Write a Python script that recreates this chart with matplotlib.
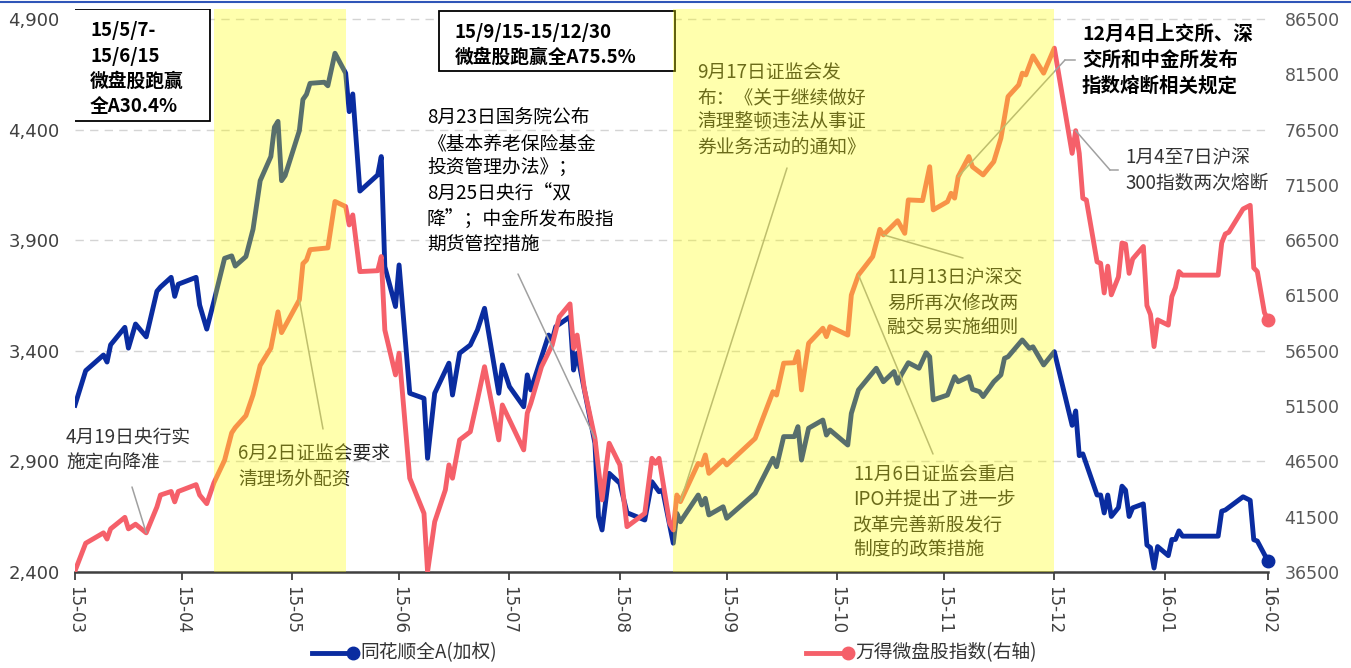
import matplotlib
matplotlib.use("Agg")
import matplotlib.pyplot as plt
import matplotlib.transforms as mtransforms
from matplotlib.patches import Rectangle
from matplotlib.lines import Line2D
import pandas as pd

plt.rcParams['font.family'] = ['Noto Sans CJK SC', 'DejaVu Sans']

W, H = 1351, 668

# 同花顺全A(加权) - left axis
all_a_dates = [
    '2015-03-31', '2015-04-03', '2015-04-08', '2015-04-09', '2015-04-10', '2015-04-14', '2015-04-15',
    '2015-04-17', '2015-04-20', '2015-04-23', '2015-04-24', '2015-04-27', '2015-04-28', '2015-04-29',
    '2015-05-04', '2015-05-05', '2015-05-07', '2015-05-09', '2015-05-12', '2015-05-14', '2015-05-15',
    '2015-05-18', '2015-05-20', '2015-05-22', '2015-05-25', '2015-05-26', '2015-05-27', '2015-05-28',
    '2015-05-29', '2015-06-02', '2015-06-03', '2015-06-04', '2015-06-05', '2015-06-09', '2015-06-10',
    '2015-06-12', '2015-06-15', '2015-06-16', '2015-06-17', '2015-06-19', '2015-06-24', '2015-06-25',
    '2015-06-26', '2015-06-29', '2015-06-30', '2015-07-03', '2015-07-07', '2015-07-08', '2015-07-10',
    '2015-07-14', '2015-07-15', '2015-07-17', '2015-07-20', '2015-07-22', '2015-07-24', '2015-07-28',
    '2015-07-29', '2015-07-31', '2015-08-04', '2015-08-05', '2015-08-06', '2015-08-11', '2015-08-12',
    '2015-08-13', '2015-08-17', '2015-08-18', '2015-08-19', '2015-08-24', '2015-08-25', '2015-08-26',
    '2015-08-28', '2015-08-31', '2015-09-02', '2015-09-07', '2015-09-09', '2015-09-11', '2015-09-12',
    '2015-09-15', '2015-09-16', '2015-09-17', '2015-09-22', '2015-09-23', '2015-09-24', '2015-09-25',
    '2015-09-29', '2015-09-30', '2015-10-08', '2015-10-13', '2015-10-14', '2015-10-16', '2015-10-19',
    '2015-10-20', '2015-10-21', '2015-10-23', '2015-10-27', '2015-10-28', '2015-10-29', '2015-11-03',
    '2015-11-04', '2015-11-06', '2015-11-11', '2015-11-13', '2015-11-16', '2015-11-17', '2015-11-18',
    '2015-11-20', '2015-11-23', '2015-11-25', '2015-11-26', '2015-11-27', '2015-12-01', '2015-12-03',
    '2015-12-04', '2015-12-07', '2015-12-08', '2015-12-10', '2015-12-11', '2015-12-14', '2015-12-16',
    '2015-12-17', '2015-12-18', '2015-12-22', '2015-12-24', '2015-12-25', '2015-12-28', '2015-12-31',
    '2016-01-05', '2016-01-06', '2016-01-07', '2016-01-08', '2016-01-12', '2016-01-13', '2016-01-14',
    '2016-01-15', '2016-01-16', '2016-01-18', '2016-01-19', '2016-01-20', '2016-01-21', '2016-01-22',
    '2016-01-25', '2016-01-26', '2016-01-27', '2016-01-28', '2016-01-29', '2016-02-01', '2016-02-02',
    '2016-02-03', '2016-02-04', '2016-02-05', '2016-02-15', '2016-02-16', '2016-02-17', '2016-02-22',
    '2016-02-24', '2016-02-25', '2016-02-26', '2016-02-29',
]
all_a = [
    3154, 3310, 3381, 3349, 3427, 3506, 3412,
    3521, 3463, 3669, 3688, 3732, 3646, 3701,
    3732, 3607, 3498, 3623, 3818, 3829, 3783,
    3826, 3950, 4169, 4278, 4411, 4437, 4169,
    4192, 4395, 4536, 4559, 4609, 4614, 4598,
    4745, 4655, 4481, 4561, 4122, 4195, 4278,
    3780, 3600, 3788, 3208, 3185, 2914, 3208,
    3344, 3200, 3389, 3426, 3494, 3592, 3208,
    3336, 3238, 3147, 3291, 3223, 3471, 3449,
    3509, 3554, 3313, 3389, 2982, 2650, 2590,
    2846, 2801, 2668, 2635, 2808, 2763, 2771,
    2530, 2665, 2627, 2748, 2703, 2733, 2658,
    2695, 2643, 2756, 2914, 2876, 3012, 3012,
    3057, 2906, 3050, 3087, 3019, 3042, 2974,
    3117, 3223, 3321, 3260, 3306, 3253, 3291,
    3346, 3321, 3391, 3373, 3178, 3200, 3283,
    3260, 3283, 3226, 3215, 3193, 3260, 3291,
    3366, 3373, 3449, 3411, 3418, 3336, 3396,
    3063, 3128, 2926, 2934, 2748, 2748, 2667,
    2748, 2651, 2691, 2788, 2770, 2651, 2690,
    2708, 2522, 2510, 2418, 2515, 2474, 2547,
    2547, 2586, 2562, 2562, 2675, 2680, 2740,
    2724, 2546, 2540, 2449,
]

# 万得微盘股指数 - right axis
micro_dates = [
    '2015-03-31', '2015-04-03', '2015-04-08', '2015-04-09', '2015-04-10', '2015-04-14', '2015-04-15',
    '2015-04-17', '2015-04-20', '2015-04-23', '2015-04-24', '2015-04-27', '2015-04-28', '2015-04-29',
    '2015-05-04', '2015-05-05', '2015-05-07', '2015-05-09', '2015-05-12', '2015-05-14', '2015-05-15',
    '2015-05-18', '2015-05-20', '2015-05-22', '2015-05-25', '2015-05-27', '2015-05-28', '2015-06-02',
    '2015-06-03', '2015-06-04', '2015-06-05', '2015-06-10', '2015-06-12', '2015-06-15', '2015-06-16',
    '2015-06-17', '2015-06-19', '2015-06-24', '2015-06-25', '2015-06-26', '2015-06-29', '2015-06-30',
    '2015-07-03', '2015-07-07', '2015-07-08', '2015-07-10', '2015-07-13', '2015-07-14', '2015-07-15',
    '2015-07-17', '2015-07-20', '2015-07-22', '2015-07-24', '2015-07-28', '2015-07-29', '2015-08-04',
    '2015-08-05', '2015-08-06', '2015-08-09', '2015-08-12', '2015-08-14', '2015-08-17', '2015-08-18',
    '2015-08-19', '2015-08-21', '2015-08-24', '2015-08-26', '2015-08-28', '2015-08-31', '2015-09-02',
    '2015-09-07', '2015-09-09', '2015-09-10', '2015-09-11', '2015-09-14', '2015-09-15', '2015-09-16',
    '2015-09-17', '2015-09-22', '2015-09-23', '2015-09-24', '2015-09-25', '2015-09-29', '2015-09-30',
    '2015-10-08', '2015-10-13', '2015-10-14', '2015-10-16', '2015-10-19', '2015-10-20', '2015-10-21',
    '2015-10-23', '2015-10-27', '2015-10-28', '2015-10-29', '2015-11-03', '2015-11-04', '2015-11-06',
    '2015-11-10', '2015-11-12', '2015-11-13', '2015-11-17', '2015-11-19', '2015-11-20', '2015-11-24',
    '2015-11-26', '2015-11-27', '2015-12-01', '2015-12-02', '2015-12-03', '2015-12-04', '2015-12-07',
    '2015-12-08', '2015-12-11', '2015-12-14', '2015-12-16', '2015-12-18', '2015-12-21', '2015-12-22',
    '2015-12-23', '2015-12-25', '2015-12-28', '2015-12-31', '2016-01-05', '2016-01-06', '2016-01-07',
    '2016-01-08', '2016-01-09', '2016-01-12', '2016-01-13', '2016-01-14', '2016-01-15', '2016-01-16',
    '2016-01-18', '2016-01-19', '2016-01-20', '2016-01-21', '2016-01-22', '2016-01-25', '2016-01-26',
    '2016-01-27', '2016-01-28', '2016-01-29', '2016-02-01', '2016-02-02', '2016-02-03', '2016-02-04',
    '2016-02-05', '2016-02-15', '2016-02-16', '2016-02-17', '2016-02-18', '2016-02-22', '2016-02-24',
    '2016-02-25', '2016-02-26', '2016-02-28', '2016-02-29',
]
micro = [
    36600, 39100, 40040, 39480, 40400, 41440, 40400,
    40820, 40040, 42380, 43460, 43780, 42840, 43780,
    44400, 43460, 42680, 44560, 46600, 49080, 49560,
    50640, 52520, 55180, 56740, 60020, 58140, 61100,
    64380, 64700, 65640, 65800, 70000, 69540, 67880,
    68780, 63660, 63740, 65020, 58380, 54320, 56280,
    44980, 41800, 36520, 41040, 43920, 46180, 44980,
    48440, 49180, 52060, 55060, 48440, 51600, 47540,
    50860, 51760, 55060, 57020, 59580, 60740, 56720,
    57920, 53100, 48580, 43020, 48140, 46180, 40600,
    41800, 46780, 46320, 46780, 40880, 40300, 43460,
    42860, 46320, 46180, 47080, 45420, 46620, 46180,
    48580, 52800, 52500, 55380, 55420, 56420, 52960,
    57180, 58540, 57780, 58680, 57920, 61540, 63360,
    65020, 67480, 66980, 68260, 67120, 70140, 70080,
    73140, 69240, 69980, 70740, 70300, 72240, 74060,
    73140, 72400, 73600, 75720, 79480, 80540, 81600,
    81440, 83160, 81600, 83860, 74350, 76400, 74350,
    70290, 70130, 64540, 64410, 61730, 64150, 61560,
    63180, 66250, 66150, 63500, 64800, 65930, 60590,
    59780, 56880, 59300, 58820, 61400, 62210, 63660,
    63340, 63340, 66250, 67060, 67220, 69320, 69650,
    63990, 63660, 59950, 59300,
]

month_ticks = ['15-03', '15-04', '15-05', '15-06', '15-07', '15-08',
               '15-09', '15-10', '15-11', '15-12', '16-01', '16-02']
left_ticks = [2400, 2900, 3400, 3900, 4400, 4900]
right_ticks = [36500, 41500, 46500, 51500, 56500, 61500, 66500, 71500, 76500, 81500, 86500]

# periods where the micro-cap index outperformed
shade_periods = [('2015-05-09', '2015-06-15'), ('2015-09-15', '2015-12-31')]

BLUE = '#0a2ca0'
RED = '#f5606a'
TXT = '#262626'

d1 = pd.to_datetime(all_a_dates)
d2 = pd.to_datetime(micro_dates)

fig = plt.figure(figsize=(W / 100, H / 100), dpi=100)
ax = fig.add_axes([75 / W, 1 - 572 / H, (1268 - 75) / W, (572 - 9) / H])
ax2 = ax.twinx()

ax.plot(d1, all_a, color=BLUE, lw=3.5, solid_joinstyle='round', zorder=3)
ax.plot(d1[-1:], all_a[-1:], 'o', color=BLUE, ms=9, zorder=3, clip_on=False)
ax2.plot(d2, micro, color=RED, lw=3.5, solid_joinstyle='round', zorder=3)
ax2.plot(d2[-1:], micro[-1:], 'o', color=RED, ms=9, zorder=3, clip_on=False)

# translucent yellow drawn over everything, tints lines and notes underneath
for s, e in shade_periods:
    ax2.axvspan(pd.Timestamp(s), pd.Timestamp(e), color='#ffff00', alpha=0.32, lw=0, zorder=10)

ax.set_xlim(pd.Timestamp('2015-03-31'), pd.Timestamp('2016-02-29'))
ax.set_ylim(2400, 2400 + 2545)
ax2.set_ylim(36500, 36500 + 2545 * 20)

tick_dates = pd.date_range('2015-03-31', periods=len(month_ticks), freq='ME')
ax.set_xticks(tick_dates)
ax.set_xticklabels(month_ticks, rotation=-90, family='DejaVu Sans')
ax.tick_params(axis='x', length=6, width=1.3, color='#404040', labelsize=12, labelcolor='#404040', pad=4)

ax.set_yticks(left_ticks)
ax.set_yticklabels([f'{v:,}' for v in left_ticks], family='DejaVu Sans')
ax.tick_params(axis='y', length=0, labelsize=13, labelcolor='#404040', pad=11)
ax2.set_yticks(right_ticks)
ax2.set_yticklabels([str(v) for v in right_ticks], family='DejaVu Sans')
ax2.tick_params(axis='y', length=0, labelsize=12.5, labelcolor='#595959', pad=12)

ax.grid(axis='y', ls=(0, (6, 4.5)), color='#d4d4d4', lw=1)
for side in ['top', 'left', 'right']:
    ax.spines[side].set_visible(False)
ax.spines['bottom'].set_color('#404040')
ax.spines['bottom'].set_linewidth(1.8)
for side in ax2.spines:
    ax2.spines[side].set_visible(False)

# pixel coordinates, origin top-left
pix = mtransforms.Affine2D().scale(1 / W, -1 / H).translate(0, 1) + fig.transFigure


def note(lines, x, y0, step, color=TXT, size=13.5, weight='normal', z=4):
    for i, s in enumerate(lines):
        ax2.text(x, y0 + i * step, s, transform=pix, ha='left', va='center',
                 fontsize=size, color=color, fontweight=weight, zorder=z)


def link(date, pts, color='#a0a0a0'):
    val = micro[micro_dates.index(date)]
    if len(pts) > 1:
        xs, ys = zip(*pts)
        ax2.add_artist(Line2D(xs, ys, transform=pix, color=color, lw=1.1, zorder=4))
    ax2.annotate('', xy=(pd.Timestamp(date), val), xycoords='data',
                 xytext=pts[-1], textcoords=pix,
                 arrowprops=dict(arrowstyle='-', color=color, lw=1.1, shrinkA=0, shrinkB=0),
                 zorder=4)


# boxed notes
for (x0, y0, w, h) in [(74, 9, 136, 112), (439, 11, 236, 60)]:
    ax2.add_artist(Rectangle((x0, y0), w, h, transform=pix, facecolor='white',
                             edgecolor='black', lw=1.3, zorder=5))
note(['15/5/7-', '15/6/15', '微盘股跑赢', '全A30.4%'], 90, 31, 25, color='black', size=13.5, weight='bold', z=6)
note(['15/9/15-15/12/30', '微盘股跑赢全A75.5%'], 455, 32, 25.5, color='black', size=13.5, weight='bold', z=6)

note(['4月19日央行实', '施定向降准'], 66, 438, 25, color='#333333')
link('2015-04-20', [(132, 487)])

note(['6月2日证监会要求', '清理场外配资'], 238, 454, 25)
link('2015-06-02', [(323, 429)])

note(['8月23日国务院公布', '《基本养老保险基金', '投资管理办法》；', '8月25日央行“双',
      '降”；中金所发布股指', '期货管控措施'], 427, 118, 25.4, color='black')
link('2015-08-24', [(518, 274)])

note(['9月17日证监会发', '布：《关于继续做好', '清理整顿违法从事证', '券业务活动的通知》'], 697, 73, 24.5)
link('2015-09-17', [(787, 168)])

note(['11月13日沪深交', '易所再次修改两', '融交易实施细则'], 887, 278, 24.5)
link('2015-11-13', [(963, 258)])

note(['11月6日证监会重启', 'IPO并提出了进一步', '改革完善新股发行', '制度的政策措施'], 853, 475, 24.8)
link('2015-11-06', [(933, 454)])

note(['12月4日上交所、深', '交所和中金所发布', '指数熔断相关规定'], 1082, 34, 26, color='black', size=14, weight='bold')
link('2015-12-04', [(1075, 60), (1065, 60)])

note(['1月4至7日沪深', '300指数两次熔断'], 1125, 158, 25, color='#333333')
link('2016-01-06', [(1118, 170), (1110, 170)])

# legend
for x0, x1, col, label in [(312, 350, BLUE, '同花顺全A(加权)'), (806, 845, RED, '万得微盘股指数(右轴)')]:
    fig.add_artist(Line2D([x0, x1], [653, 653], transform=pix, color=col, lw=3.5))
    fig.add_artist(Line2D([x1 + 3], [653], transform=pix, color=col, marker='o', ms=9, lw=0))
    fig.text(x1 + 10, 653, label, transform=pix, ha='left', va='center', fontsize=13.5, color='#333333')

# thin frame line along the top edge
fig.add_artist(Line2D([0, 1], [1 - 1.5 / H, 1 - 1.5 / H], transform=fig.transFigure, color='#2f55b8', lw=1.5))

fig.savefig('out.png', dpi=100)
